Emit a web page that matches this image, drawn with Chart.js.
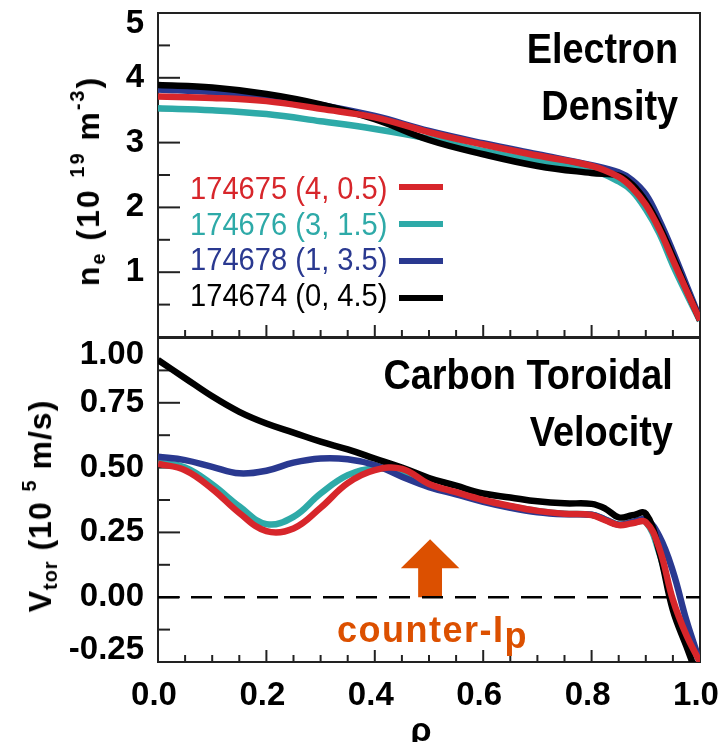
<!DOCTYPE html>
<html lang="en">
<head>
<meta charset="UTF-8">
<meta name="viewport" content="width=device-width, initial-scale=1.0">
<title>Electron density and carbon toroidal velocity profiles</title>
<script src="https://cdn.jsdelivr.net/npm/chart.js"></script>
<style>
    body {
        margin: 0;
        background: #fff;
    }
    #fig {
        position: relative;
        width: 720px;
        height: 742px;
        overflow: hidden;
        font-family: "Liberation Sans", Arial, sans-serif;
    }
    #fig canvas {
        position: absolute;
        left: 0;
        top: 0;
    }
    .txt {
        position: absolute;
        white-space: nowrap;
        pointer-events: none;
        line-height: 1;
    }
    .panel-title {
        font-weight: bold;
        font-size: 43px;
        line-height: 57px;
        text-align: right;
        transform: scaleX(0.88);
        transform-origin: right top;
    }
    .ytitle {
        font-weight: bold;
        font-size: 32px;
        letter-spacing: 1px;
        transform: translate(-50%, -50%) rotate(-90deg);
    }
    .ytitle sub, .ytitle sup {
        font-size: 0.62em;
        line-height: 0;
    }
    .ytitle sub { vertical-align: -0.3em; }
    .ytitle sup { vertical-align: 0.75em; }
    .legend {
        font-size: 32px;
        transform: scaleX(0.91);
        transform-origin: left top;
    }
    .swatch {
        position: absolute;
        width: 44px;
        height: 6px;
    }
    #counter {
        left: 337px;
        top: 612px;
        font-size: 36px;
        font-weight: bold;
        letter-spacing: 1.5px;
        color: #dc5000;
    }
    #counter sub {
        font-size: 1em;
        line-height: 0;
        vertical-align: -0.18em;
    }
    #rho {
        left: 421px;
        top: 712px;
        font-size: 34px;
        font-weight: bold;
        transform: translateX(-50%);
    }
</style>
</head>
<body>
<div id="fig">
    <canvas id="neChart" width="720" height="742"></canvas>
    <canvas id="vChart" width="720" height="742"></canvas>

    <div class="txt panel-title" style="right: 42px; top: 20px;">Electron<br>Density</div>
    <div class="txt panel-title" style="right: 47px; top: 346px;">Carbon Toroidal<br>Velocity</div>

    <div class="txt ytitle" style="left: 88px; top: 181px; letter-spacing: 2px;">n<sub>e</sub> (10 <sup>19</sup> m<sup>-3</sup>)</div>
    <div class="txt ytitle" style="left: 40px; top: 506px;">V<sub>tor</sub> (10 <sup>5</sup> m/s)</div>

    <div class="txt" id="counter">counter-I<sub>p</sub></div>
    <div class="txt" id="rho">ρ</div>
</div>

<script>
    // shot labels (shot number, co/counter beam split) and colours
    const shots = ["174675 (4, 0.5)", "174676 (3, 1.5)", "174678 (1, 3.5)", "174674 (0, 4.5)"];
    const colors = ["#d7262b", "#2eaaa8", "#2a3990", "#000000"];

    // electron density, 10^19 m^-3
    const neRho = [0, 0.1, 0.2, 0.3, 0.4, 0.5, 0.6, 0.7, 0.8, 0.85, 0.875, 0.9, 0.925, 0.95, 0.975, 1.0];
    const ne174675 = [3.71, 3.69, 3.64, 3.52, 3.39, 3.16, 2.97, 2.80, 2.64, 2.47, 2.30, 2.04, 1.66, 1.19, 0.72, 0.26];
    const ne174676 = [3.53, 3.50, 3.44, 3.33, 3.21, 3.06, 2.87, 2.71, 2.58, 2.40, 2.25, 1.97, 1.60, 1.11, 0.67, 0.25];
    const ne174678 = [3.82, 3.78, 3.72, 3.58, 3.41, 3.18, 2.99, 2.82, 2.65, 2.54, 2.42, 2.20, 1.80, 1.32, 0.80, 0.28];
    const ne174674 = [3.89, 3.85, 3.75, 3.59, 3.36, 3.04, 2.82, 2.64, 2.53, 2.49, 2.35, 2.09, 1.71, 1.24, 0.74, 0.26];

    // carbon toroidal velocity, 10^5 m/s
    const vRho = [0, 0.05, 0.1, 0.15, 0.2, 0.25, 0.3, 0.35, 0.4, 0.45, 0.5, 0.55, 0.6, 0.65, 0.7, 0.75,
                  0.8, 0.825, 0.85, 0.875, 0.9, 0.925, 0.95, 0.975, 1.0];
    const v174675 = [0.515, 0.49, 0.418, 0.325, 0.255, 0.265, 0.345, 0.44, 0.49, 0.495, 0.437, 0.405, 0.375, 0.352, 0.333, 0.322,
                     0.317, 0.297, 0.278, 0.285, 0.29, 0.188, -0.01, -0.147, -0.25];
    const v174676 = [0.52, 0.50, 0.435, 0.35, 0.282, 0.31, 0.40, 0.471, 0.497, 0.48, 0.43, 0.40, 0.372, 0.35, 0.333, 0.322,
                     0.318, 0.30, 0.28, 0.287, 0.29, 0.17, -0.02, -0.15, -0.25];
    const v174678 = [0.542, 0.529, 0.503, 0.478, 0.488, 0.519, 0.535, 0.532, 0.51, 0.465, 0.425, 0.397, 0.368, 0.345, 0.328, 0.32,
                     0.318, 0.30, 0.28, 0.29, 0.30, 0.235, 0.10, -0.09, -0.25];
    const v174674 = [0.915, 0.845, 0.775, 0.715, 0.67, 0.635, 0.60, 0.57, 0.535, 0.50, 0.46, 0.43, 0.40, 0.385, 0.37, 0.362,
                     0.36, 0.342, 0.308, 0.316, 0.322, 0.175, -0.05, -0.19, -0.33];

    // zero reference and the counter-Ip arrow (rho, v)
    const zeroRho = [0, 1];
    const zeroV = [0, 0];
    const arrowRho = 0.502;
    const arrowV = [0, 0.112, 0.224];

    // legend rows
    const fig = document.getElementById("fig");
    shots.forEach((s, i) => {
        const t = document.createElement("div");
        t.className = "txt legend";
        t.style.left = "190px";
        t.style.top = (172 + i * 35.5) + "px";
        t.style.color = colors[i];
        t.textContent = s;
        fig.appendChild(t);
        const sw = document.createElement("div");
        sw.className = "swatch";
        sw.style.left = "399px";
        sw.style.top = (184 + i * 37) + "px";
        sw.style.background = colors[i];
        fig.appendChild(sw);
    });

    const tickFont = { family: "'Liberation Sans Narrow', 'Arial Narrow', 'Liberation Sans', sans-serif", size: 33, weight: "bold" };

    function profile(label, rho, vals, color) {
        return {
            label: label,
            data: rho.map((r, i) => ({ x: r, y: vals[i] })),
            borderColor: color,
            borderWidth: 6.5,
            pointRadius: 0,
            fill: false,
            tension: 0.4
        };
    }

    // fixed axis box: no extra room for overhanging labels
    const fixWidth = s => { s.width = 158; s.paddingTop = 0; s.paddingBottom = 0; };

    // box, inward ticks and shifted end labels
    const frame = {
        id: "frame",
        beforeDraw(chart, args, o) {
            const items = chart.scales.y.getLabelItems();
            items.forEach(it => {
                if (it._moved) return;
                if (it.label === o.topLabel) it.options.translation[1] += o.topShift;
                if (it.label === o.bottomLabel) it.options.translation[1] += o.bottomShift;
                it._moved = true;
            });
        },
        beforeDatasetsDraw(chart, args, o) {
            const { ctx, chartArea: a, scales: { x, y } } = chart;
            ctx.save();
            ctx.strokeStyle = "#222";
            ctx.lineWidth = 2;
            const seg = (x1, y1, x2, y2) => {
                ctx.beginPath();
                ctx.moveTo(x1, y1);
                ctx.lineTo(x2, y2);
                ctx.stroke();
            };
            const nY = Math.round((y.max - y.min) / o.yMinor);
            for (let i = 0; i <= nY; i++) {
                const v = y.min + i * o.yMinor;
                const major = Math.abs(v / o.yMajor - Math.round(v / o.yMajor)) < 1e-6;
                const p = y.getPixelForValue(v);
                seg(a.left, p, a.left + (major ? 22 : 12), p);
            }
            const nX = Math.round((x.max - x.min) / o.xMinor);
            for (let i = 0; i <= nX; i++) {
                const v = x.min + i * o.xMinor;
                const major = Math.abs(v / o.xMajor - Math.round(v / o.xMajor)) < 1e-6;
                const p = x.getPixelForValue(v);
                seg(p, a.bottom, p, a.bottom - (major ? 12 : 7));
            }
            ctx.strokeRect(a.left, a.top, a.width, a.height);

            if (o.arrow) {
                const xc = x.getPixelForValue(arrowRho);
                const head = x.getPixelForValue(arrowRho + 0.054) - xc;
                const shaft = x.getPixelForValue(arrowRho + 0.022) - xc;
                const y0 = y.getPixelForValue(arrowV[0]);
                const y1 = y.getPixelForValue(arrowV[1]);
                const y2 = y.getPixelForValue(arrowV[2]);
                ctx.fillStyle = "#dc5000";
                ctx.beginPath();
                ctx.moveTo(xc - shaft, y0);
                ctx.lineTo(xc - shaft, y1);
                ctx.lineTo(xc - head, y1);
                ctx.lineTo(xc, y2);
                ctx.lineTo(xc + head, y1);
                ctx.lineTo(xc + shaft, y1);
                ctx.lineTo(xc + shaft, y0);
                ctx.closePath();
                ctx.fill();
            }
            ctx.restore();
        }
    };

    // top panel: electron density
    new Chart(document.getElementById("neChart"), {
        type: "line",
        data: {
            datasets: [
                profile(shots[0], neRho, ne174675, colors[0]),
                profile(shots[3], neRho, ne174674, colors[3]),
                profile(shots[2], neRho, ne174678, colors[2]),
                profile(shots[1], neRho, ne174676, colors[1])
            ]
        },
        options: {
            responsive: false,
            animation: false,
            events: [],
            layout: { padding: { left: 0, right: 20, top: 13, bottom: 405 } },
            plugins: {
                legend: { display: false },
                tooltip: { enabled: false },
                frame: { yMinor: 0.5, yMajor: 1, xMinor: 0.05, xMajor: 0.2, topLabel: "5", topShift: 11, bottomLabel: null, bottomShift: 0 }
            },
            scales: {
                x: { type: "linear", min: 0, max: 1, display: false },
                y: {
                    min: 0,
                    max: 5,
                    afterFit: fixWidth,
                    grid: { display: false, drawTicks: false },
                    border: { display: false },
                    ticks: { stepSize: 1, padding: 14, color: "#000", font: tickFont, callback: v => (v === 0 ? "" : String(v)) }
                }
            }
        },
        plugins: [frame]
    });

    // bottom panel: carbon toroidal velocity
    new Chart(document.getElementById("vChart"), {
        type: "line",
        data: {
            datasets: [
                profile(shots[0], vRho, v174675, colors[0]),
                profile(shots[3], vRho, v174674, colors[3]),
                profile(shots[2], vRho, v174678, colors[2]),
                profile(shots[1], vRho, v174676, colors[1]),
                {
                    label: "zero",
                    data: zeroRho.map((r, i) => ({ x: r, y: zeroV[i] })),
                    borderColor: "#000",
                    borderWidth: 2.5,
                    borderDash: [21, 12],
                    pointRadius: 0
                }
            ]
        },
        options: {
            responsive: false,
            animation: false,
            events: [],
            layout: { padding: { left: 0, right: 20, top: 338, bottom: 0 } },
            plugins: {
                legend: { display: false },
                tooltip: { enabled: false },
                frame: { yMinor: 0.125, yMajor: 0.25, xMinor: 0.05, xMajor: 0.2, arrow: true, topLabel: "1.00", topShift: 17, bottomLabel: "-0.25", bottomShift: -12 }
            },
            scales: {
                x: {
                    type: "linear",
                    min: 0,
                    max: 1,
                    afterFit: s => { s.height = 80; s.paddingLeft = 0; s.paddingRight = 0; },
                    grid: { display: false, drawTicks: false },
                    border: { display: false },
                    ticks: { stepSize: 0.2, padding: 14, labelOffset: -4, color: "#000", font: tickFont, maxRotation: 0, callback: v => v.toFixed(1) }
                },
                y: {
                    min: -0.25,
                    max: 1.0,
                    afterFit: fixWidth,
                    grid: { display: false, drawTicks: false },
                    border: { display: false },
                    ticks: { stepSize: 0.25, padding: 14, color: "#000", font: tickFont, callback: v => v.toFixed(2) }
                }
            }
        },
        plugins: [frame]
    });
</script>
</body>
</html>
